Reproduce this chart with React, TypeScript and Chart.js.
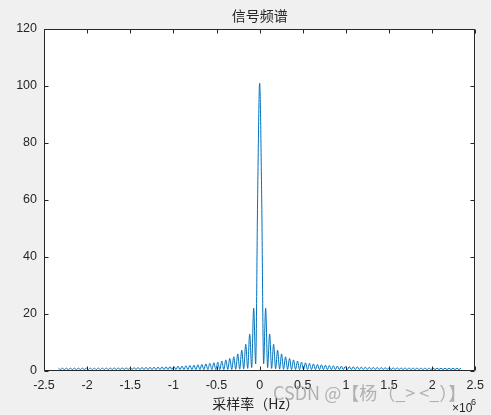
import React, { useEffect, useRef } from "react";
import { Chart, registerables } from "chart.js";

Chart.register(...registerables);

// ---- chart text ----
const TITLE = "信号频谱";
const X_LABEL = "采样率（Hz）";
const X_EXP_BASE = "×10";
const X_EXP_POWER = "6";
const WATERMARK = "CSDN @【杨（_> <_）】";

// ---- axes ----
const X_MIN = -2.5;
const X_MAX = 2.5;
const X_STEP = 0.5;
const Y_MIN = 0;
const Y_MAX = 120;
const Y_STEP = 20;

// ---- spectrum (frequency in units of 1e6 Hz) ----
const NULL_SPACING = 0.0462; // distance between spectral nulls
const MAIN_PEAK = 101; // value at 0 Hz
const MAIN_LOBE_MID = 62; // main lobe value half-way to first null
// side-lobe peak heights, from the centre outwards (last = value at the band edge)
const SIDE_PEAKS = [
  22, 13, 9.4, 7.3, 6.0, 5.0, 4.4, 3.9, 3.5, 3.1,
  2.9, 2.7, 2.5, 2.3, 2.2, 2.05, 1.95, 1.85, 1.75, 1.7,
  1.6, 1.55, 1.5, 1.45, 1.4, 1.36, 1.33, 1.29, 1.26, 1.23,
  1.2, 1.18, 1.16, 1.14, 1.12, 1.1, 1.09, 1.07, 1.06, 1.05,
  1.04, 1.03, 1.02, 1.02, 1.01, 1.01, 1.0, 1.0, 1.0, 1.0,
];
// floor reached at each null, from the centre outwards
const NULL_FLOORS = [
  2.5, 1.2, 0.9, 0.75, 0.65, 0.6, 0.55, 0.55, 0.5, 0.5,
  0.5, 0.5, 0.5, 0.5, 0.5, 0.5, 0.5, 0.5, 0.5, 0.5,
  0.5, 0.5, 0.5, 0.5, 0.5, 0.5, 0.5, 0.5, 0.5, 0.5,
  0.5, 0.5, 0.5, 0.5, 0.5, 0.5, 0.5, 0.5, 0.5, 0.5,
  0.5, 0.5, 0.5, 0.5, 0.5, 0.5, 0.5, 0.5, 0.5, 0.5,
];

const LINE_COLOR = "#0072BD";
const TEXT_COLOR = "#262626";
const BG_COLOR = "#f0f0f0";

function buildRightHalf(): { x: number; y: number }[] {
  const pts: { x: number; y: number }[] = [];
  pts.push({ x: 0.5 * NULL_SPACING, y: MAIN_LOBE_MID });
  for (let k = 0; k < NULL_FLOORS.length; k++) {
    pts.push({ x: (k + 1) * NULL_SPACING, y: NULL_FLOORS[k] });
    pts.push({ x: (k + 1.5) * NULL_SPACING, y: SIDE_PEAKS[k] });
  }
  return pts;
}

export default function App() {
  const ref = useRef<HTMLCanvasElement | null>(null);

  useEffect(() => {
    const canvas = ref.current;
    if (!canvas) return;
    const right = buildRightHalf();
    const left = right.map((p) => ({ x: -p.x, y: p.y })).reverse();
    const data = [...left, { x: 0, y: MAIN_PEAK }, ...right];

    const decor = {
      id: "matlabDecor",
      beforeDraw(chart: any) {
        const { ctx, chartArea: a } = chart;
        ctx.save();
        ctx.fillStyle = BG_COLOR;
        ctx.fillRect(0, 0, chart.width, chart.height);
        ctx.fillStyle = "#ffffff";
        ctx.fillRect(a.left, a.top, a.right - a.left, a.bottom - a.top);
        ctx.restore();
      },
      afterDraw(chart: any) {
        const { ctx, chartArea: a } = chart;
        const xs = chart.scales.x;
        const ys = chart.scales.y;
        const L = Math.round(a.left) + 0.5;
        const R = Math.round(a.right) - 0.5;
        const T = Math.round(a.top) + 0.5;
        const B = Math.round(a.bottom) - 0.5;
        const tl = 4;
        ctx.save();
        ctx.strokeStyle = TEXT_COLOR;
        ctx.lineWidth = 1;
        ctx.beginPath();
        ctx.rect(L, T, R - L, B - T);
        for (let v = X_MIN; v <= X_MAX + 1e-9; v += X_STEP) {
          const px = Math.round(xs.getPixelForValue(v)) + 0.5;
          ctx.moveTo(px, B);
          ctx.lineTo(px, B - tl);
          ctx.moveTo(px, T);
          ctx.lineTo(px, T + tl);
        }
        for (let v = Y_MIN; v <= Y_MAX + 1e-9; v += Y_STEP) {
          const py = Math.round(ys.getPixelForValue(v)) + 0.5;
          ctx.moveTo(L, py);
          ctx.lineTo(L + tl, py);
          ctx.moveTo(R, py);
          ctx.lineTo(R - tl, py);
        }
        ctx.stroke();

        ctx.fillStyle = TEXT_COLOR;
        ctx.textAlign = "center";
        ctx.textBaseline = "middle";
        ctx.font = '14px "Noto Sans CJK SC", sans-serif';
        ctx.fillText(TITLE, (a.left + a.right) / 2, 16);
        ctx.fillText(X_LABEL, (a.left + a.right) / 2 - 4, 404);

        ctx.textAlign = "left";
        ctx.textBaseline = "alphabetic";
        ctx.font = '12px "Liberation Sans", Arial, sans-serif';
        ctx.fillText(X_EXP_BASE, 452, 412);
        ctx.font = '9px "Liberation Sans", Arial, sans-serif';
        ctx.fillText(X_EXP_POWER, 471, 405);

        ctx.fillStyle = "rgba(150,150,150,0.7)";
        ctx.font = '18px "Noto Sans CJK SC", sans-serif';
        ctx.textBaseline = "middle";
        ctx.fillText(WATERMARK, 273, 393);
        ctx.restore();
      },
    };

    const chart = new Chart(canvas, {
      type: "line",
      data: {
        datasets: [
          {
            data,
            borderColor: LINE_COLOR,
            borderWidth: 1,
            pointRadius: 0,
            fill: false,
            cubicInterpolationMode: "monotone",
          },
        ],
      },
      options: {
        animation: false,
        responsive: false,
        maintainAspectRatio: false,
        events: [],
        layout: { padding: { top: 29, right: 13, bottom: 0, left: 0 } },
        plugins: {
          legend: { display: false },
          title: { display: false },
          tooltip: { enabled: false },
        },
        scales: {
          x: {
            type: "linear",
            min: X_MIN,
            max: X_MAX,
            grid: { display: false, drawTicks: false },
            border: { display: false },
            ticks: {
              stepSize: X_STEP,
              autoSkip: false,
              maxRotation: 0,
              padding: 7,
              color: TEXT_COLOR,
              font: { family: '"Liberation Sans", Arial, sans-serif', size: 12.5 },
              callback: (v: any) => String(Math.round(Number(v) * 10) / 10),
            },
            afterFit: (s: any) => {
              s.height = 44;
            },
          },
          y: {
            type: "linear",
            min: Y_MIN,
            max: Y_MAX,
            grid: { display: false, drawTicks: false },
            border: { display: false },
            ticks: {
              stepSize: Y_STEP,
              autoSkip: false,
              padding: 7,
              color: TEXT_COLOR,
              font: { family: '"Liberation Sans", Arial, sans-serif', size: 12.5 },
              callback: (v: any) => String(Math.round(Number(v))),
            },
            afterFit: (s: any) => {
              s.width = 44;
            },
          },
        },
      },
      plugins: [decor],
    } as any);

    return () => chart.destroy();
  }, []);

  return (
    <div style={{ position: "fixed", left: 0, top: 0, width: 491, height: 415 }}>
      <canvas ref={ref} width={491} height={415} style={{ display: "block", width: 491, height: 415 }} />
    </div>
  );
}
